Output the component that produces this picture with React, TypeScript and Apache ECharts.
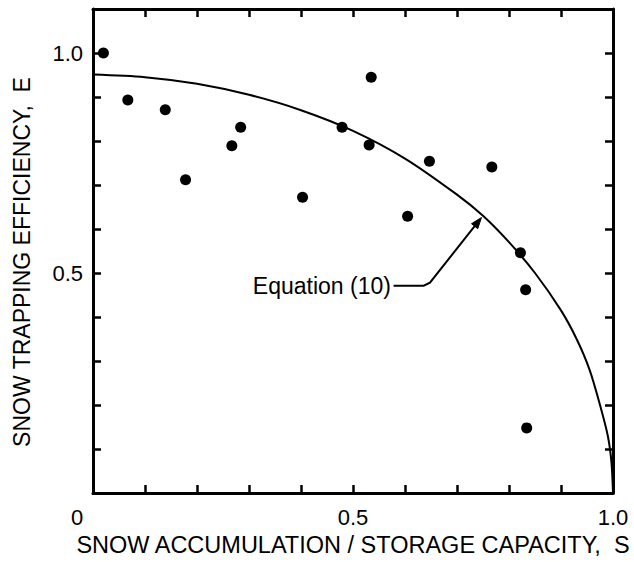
import React, { useEffect, useRef } from "react";
import * as echarts from "echarts";

// Observed points: S (snow accumulation / storage capacity) and E (trapping efficiency)
const sValues = [0.02, 0.067, 0.139, 0.178, 0.267, 0.284, 0.403, 0.479, 0.531, 0.535, 0.605, 0.647, 0.767, 0.822, 0.832, 0.834];
const eValues = [1.0, 0.893, 0.871, 0.712, 0.789, 0.831, 0.672, 0.831, 0.791, 0.945, 0.629, 0.754, 0.741, 0.546, 0.462, 0.148];

// Equation (10) curve
const curveS = [0, 0.1, 0.2, 0.3, 0.4, 0.5, 0.6, 0.7, 0.75, 0.8, 0.85, 0.9, 0.93, 0.955, 0.975, 0.99, 0.997, 1.0];
const curveE = [0.951, 0.945, 0.93, 0.905, 0.87, 0.823, 0.76, 0.678, 0.63, 0.57, 0.5, 0.415, 0.35, 0.28, 0.2, 0.13, 0.07, 0.0];

// tick labels
const xLabelValues = [0, 0.5, 1];
const xLabelTexts = ["0", "0.5", "1.0"];
const yLabelValues = [0.5, 1.0];
const yLabelTexts = ["0.5", "1.0"];

const xTitle = "SNOW ACCUMULATION / STORAGE CAPACITY,  S";
const yTitle = "SNOW TRAPPING EFFICIENCY,  E";

// annotation
const annotationText = "Equation (10)";
const annotationAnchor = [0.573, 0.471];
const leaderS = [0.578, 0.636, 0.648, 0.747];
const leaderE = [0.471, 0.471, 0.478, 0.626];

const FONT = "Liberation Sans, Arial, Helvetica, sans-serif";

function labelFor(values: number[], texts: string[], v: number): string {
  for (let i = 0; i < values.length; i++) {
    if (Math.abs(values[i] - v) < 1e-6) return texts[i];
  }
  return "";
}

export default function App() {
  const ref = useRef<HTMLDivElement>(null);

  useEffect(() => {
    if (!ref.current) return;
    const chart = echarts.init(ref.current, undefined, { renderer: "svg" });

    const axisLine = { show: true, onZero: false, lineStyle: { color: "#000", width: 3 } };
    const axisTick = { show: true, inside: true, length: 8, lineStyle: { color: "#000", width: 2.5 } };

    chart.setOption({
      animation: false,
      backgroundColor: "#fff",
      grid: { left: 93, right: 21, top: 9, bottom: 65, containLabel: false },
      xAxis: [
        {
          type: "value",
          position: "bottom",
          min: 0,
          max: 1,
          interval: 0.1,
          axisLine,
          axisTick,
          splitLine: { show: false },
          axisLabel: {
            show: true,
            margin: 13,
            color: "#000",
            fontSize: 22,
            fontFamily: FONT,
            formatter: (v: number) => {
              const t = labelFor(xLabelValues, xLabelTexts, v);
              if (t === "0") return "{z|0}";
              return t;
            },
            rich: {
              z: { fontSize: 22, fontFamily: FONT, color: "#000", padding: [0, 32, 0, 0] },
            },
          },
          name: xTitle,
          nameLocation: "middle",
          nameGap: 40,
          nameTextStyle: { color: "#000", fontSize: 23.5, fontFamily: FONT },
        },
        {
          type: "value",
          position: "top",
          min: 0,
          max: 1,
          interval: 0.1,
          axisLine,
          axisTick,
          splitLine: { show: false },
          axisLabel: { show: false },
        },
      ],
      yAxis: [
        {
          type: "value",
          position: "left",
          min: 0,
          max: 1.1,
          interval: 0.1,
          axisLine,
          axisTick,
          splitLine: { show: false },
          axisLabel: {
            show: true,
            margin: 10,
            color: "#000",
            fontSize: 22,
            fontFamily: FONT,
            formatter: (v: number) => labelFor(yLabelValues, yLabelTexts, v),
          },
          name: yTitle,
          nameLocation: "middle",
          nameGap: 60,
          nameRotate: 90,
          nameTextStyle: { color: "#000", fontSize: 23, fontFamily: FONT, padding: [0, 22, 0, 0] },
        },
        {
          type: "value",
          position: "right",
          min: 0,
          max: 1.1,
          interval: 0.1,
          axisLine,
          axisTick,
          splitLine: { show: false },
          axisLabel: { show: false },
        },
      ],
      series: [
        {
          type: "line",
          data: curveS.map((s, i) => [s, curveE[i]]),
          showSymbol: false,
          symbol: "none",
          smooth: 0.3,
          lineStyle: { color: "#000", width: 2 },
          silent: true,
          z: 2,
        },
        {
          type: "scatter",
          data: sValues.map((s, i) => [s, eValues[i]]),
          symbol: "circle",
          symbolSize: 11,
          itemStyle: { color: "#000", opacity: 1 },
          z: 3,
        },
      ],
    });

    // annotation with leader & arrowhead placed via data coordinates
    const pts = leaderS.map((s, i) => chart.convertToPixel({ gridIndex: 0 }, [s, leaderE[i]]) as number[]);
    const tip = pts[pts.length - 1];
    const prev = pts[pts.length - 2];
    const dx = tip[0] - prev[0];
    const dy = tip[1] - prev[1];
    const len = Math.sqrt(dx * dx + dy * dy);
    const ux = dx / len;
    const uy = dy / len;
    const ah = 11;
    const aw = 4;
    const base = [tip[0] - ux * ah, tip[1] - uy * ah];
    const arrow = [
      [tip[0], tip[1]],
      [base[0] - uy * aw, base[1] + ux * aw],
      [base[0] + uy * aw, base[1] - ux * aw],
    ];
    const lineEnd = [tip[0] - ux * (ah - 2), tip[1] - uy * (ah - 2)];
    const anchor = chart.convertToPixel({ gridIndex: 0 }, annotationAnchor) as number[];
    const linePts = pts.slice(0, pts.length - 1).concat([lineEnd]);

    chart.setOption({
      graphic: [
        {
          type: "polyline",
          shape: { points: linePts, smooth: 0 },
          style: { stroke: "#000", lineWidth: 2, fill: "none" },
          z: 10,
        },
        {
          type: "polygon",
          shape: { points: arrow },
          style: { fill: "#000", stroke: "#000", lineWidth: 1 },
          z: 10,
        },
        {
          type: "text",
          x: anchor[0],
          y: anchor[1],
          style: {
            text: annotationText,
            fill: "#000",
            fontSize: 23,
            fontFamily: FONT,
            align: "right",
            verticalAlign: "middle",
          },
          z: 10,
        },
      ],
    });

    return () => {
      chart.dispose();
    };
  }, []);

  return (
    <div
      ref={ref}
      style={{ position: "absolute", left: 0, top: 0, width: 634, height: 562, background: "#fff" }}
    />
  );
}
